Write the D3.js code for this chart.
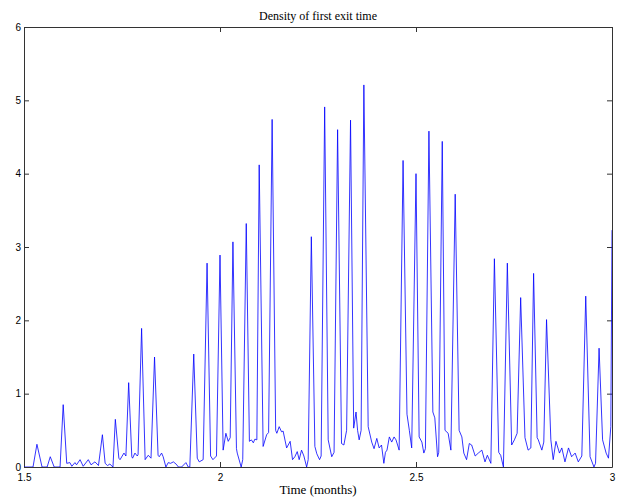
<!DOCTYPE html>
<html>
<head>
<meta charset="utf-8">
<script src="https://cdn.jsdelivr.net/npm/d3@7"></script>
<style>
  body { margin: 0; background: #fff; }
  .tick text { font-family: "Liberation Sans", Arial, sans-serif; font-size: 10px; fill: #000; }
  .domain, .tick line { stroke: #333; }
</style>
</head>
<body>
<script>
// time in months, density
const times = [
  1.500, 1.523, 1.533, 1.546, 1.559, 1.567, 1.577, 1.592, 1.600, 1.609,
  1.617, 1.622, 1.630, 1.634, 1.643, 1.651, 1.664, 1.671, 1.681, 1.690,
  1.700, 1.707, 1.713, 1.719, 1.727, 1.733, 1.742, 1.745, 1.755, 1.760,
  1.767, 1.775, 1.777, 1.783, 1.789, 1.791, 1.800, 1.809, 1.817, 1.824,
  1.833, 1.842, 1.845, 1.851, 1.855, 1.862, 1.868, 1.874, 1.881, 1.888,
  1.894, 1.902, 1.913, 1.919, 1.923, 1.933, 1.942, 1.947, 1.957, 1.967,
  1.976, 1.982, 1.991, 2.000, 2.008, 2.015, 2.021, 2.026, 2.033, 2.042,
  2.044, 2.054, 2.058, 2.067, 2.075, 2.080, 2.085, 2.089, 2.094, 2.100,
  2.110, 2.119, 2.124, 2.133, 2.142, 2.145, 2.151, 2.157, 2.161, 2.170,
  2.179, 2.185, 2.191, 2.197, 2.202, 2.208, 2.214, 2.221, 2.225, 2.233,
  2.242, 2.247, 2.254, 2.258, 2.267, 2.276, 2.285, 2.291, 2.300, 2.310,
  2.316, 2.323, 2.333, 2.341, 2.347, 2.351, 2.355, 2.360, 2.367, 2.378,
  2.387, 2.393, 2.400, 2.406, 2.412, 2.418, 2.422, 2.426, 2.432, 2.438,
  2.444, 2.449, 2.457, 2.467, 2.477, 2.483, 2.489, 2.500, 2.508, 2.515,
  2.520, 2.524, 2.533, 2.543, 2.548, 2.555, 2.558, 2.567, 2.574, 2.582,
  2.589, 2.600, 2.610, 2.617, 2.622, 2.629, 2.636, 2.642, 2.651, 2.659,
  2.668, 2.676, 2.682, 2.691, 2.700, 2.711, 2.716, 2.723, 2.733, 2.744,
  2.751, 2.758, 2.767, 2.778, 2.786, 2.793, 2.800, 2.809, 2.812, 2.821,
  2.826, 2.833, 2.844, 2.850, 2.857, 2.866, 2.872, 2.880, 2.889, 2.897,
  2.906, 2.914, 2.923, 2.933, 2.944, 2.954, 2.958, 2.967, 2.976, 2.985,
  2.991, 2.997, 3.000
];
const density = [
  0.00, 0.00, 0.31, 0.00, 0.00, 0.14, 0.00, 0.00, 0.85, 0.05,
  0.06, 0.01, 0.06, 0.03, 0.10, 0.01, 0.10, 0.03, 0.07, 0.02,
  0.44, 0.05, 0.02, 0.04, 0.00, 0.65, 0.12, 0.10, 0.19, 0.15,
  1.15, 0.14, 0.12, 0.19, 0.15, 0.17, 1.89, 0.10, 0.16, 0.12,
  1.50, 0.16, 0.14, 0.19, 0.14, 0.00, 0.06, 0.05, 0.07, 0.04,
  0.00, 0.00, 0.06, 0.00, 0.00, 1.54, 0.12, 0.07, 0.10, 2.78,
  0.15, 0.10, 0.15, 2.89, 0.23, 0.46, 0.35, 0.40, 3.07, 0.25,
  0.19, 0.00, 0.10, 3.32, 0.35, 0.37, 0.33, 0.38, 0.37, 4.12,
  0.28, 0.44, 0.47, 4.74, 0.50, 0.46, 0.55, 0.48, 0.49, 0.26,
  0.35, 0.10, 0.14, 0.21, 0.10, 0.23, 0.15, 0.00, 0.10, 3.14,
  0.28, 0.18, 0.10, 0.15, 4.91, 0.37, 0.14, 0.20, 4.60, 0.32,
  0.30, 0.50, 4.73, 0.53, 0.75, 0.50, 0.37, 0.50, 5.21, 0.55,
  0.34, 0.25, 0.39, 0.26, 0.30, 0.05, 0.20, 0.23, 0.41, 0.34,
  0.41, 0.37, 0.23, 4.18, 0.72, 0.50, 0.26, 4.00, 0.41, 0.34,
  0.19, 0.25, 4.58, 0.75, 0.67, 0.14, 0.20, 4.44, 0.50, 0.46,
  0.23, 3.72, 0.50, 0.41, 0.19, 0.10, 0.32, 0.30, 0.15, 0.19,
  0.23, 0.07, 0.16, 0.05, 2.84, 0.20, 0.16, 0.00, 2.78, 0.30,
  0.37, 0.46, 2.31, 0.40, 0.23, 0.26, 2.64, 0.40, 0.37, 0.23,
  0.34, 2.01, 0.37, 0.10, 0.35, 0.19, 0.26, 0.07, 0.26, 0.14,
  0.19, 0.07, 0.15, 2.33, 0.14, 0.00, 0.05, 1.62, 0.37, 0.19,
  0.12, 0.55, 3.23
];
const xTicks = [1.5, 2, 2.5, 3];
const yTicks = [0, 1, 2, 3, 4, 5, 6];

const width = 633;
const height = 498;
const margin = { left: 24, right: 21, top: 27, bottom: 31 };
const innerW = width - margin.left - margin.right;
const innerH = height - margin.top - margin.bottom;

const svg = d3.select("body")
  .append("svg")
  .attr("width", width)
  .attr("height", height);

const x = d3.scaleLinear().domain([1.5, 3]).range([margin.left, width - margin.right]);
const y = d3.scaleLinear().domain([0, 6]).range([height - margin.bottom, margin.top]);

svg.append("defs").append("clipPath").attr("id", "plot")
  .append("rect")
  .attr("x", margin.left).attr("y", margin.top)
  .attr("width", innerW).attr("height", innerH);

// axes with inward ticks, MATLAB style box
svg.append("g")
  .attr("transform", `translate(0,${height - margin.bottom})`)
  .call(d3.axisBottom(x).tickValues(xTicks).tickSizeInner(-5).tickSizeOuter(0).tickPadding(7)
    .tickFormat(d => Number.isInteger(d) ? d3.format("d")(d) : d.toFixed(1)));

svg.append("g")
  .attr("transform", `translate(0,${margin.top})`)
  .call(d3.axisTop(x).tickValues(xTicks).tickSizeInner(-5).tickSizeOuter(0).tickFormat(""));

svg.append("g")
  .attr("transform", `translate(${margin.left},0)`)
  .call(d3.axisLeft(y).tickValues(yTicks).tickSizeInner(-5).tickSizeOuter(0).tickPadding(3)
    .tickFormat(d3.format("d")));

svg.append("g")
  .attr("transform", `translate(${width - margin.right},0)`)
  .call(d3.axisRight(y).tickValues(yTicks).tickSizeInner(-5).tickSizeOuter(0).tickFormat(""));

const points = times.map((t, i) => [t, density[i]]);

const line = d3.line()
  .x(d => x(d[0]))
  .y(d => y(d[1]));

svg.append("path")
  .datum(points)
  .attr("clip-path", "url(#plot)")
  .attr("fill", "none")
  .attr("stroke", "#0000ff")
  .attr("stroke-width", 0.8)
  .attr("d", line);

svg.append("text")
  .attr("x", (margin.left + width - margin.right) / 2)
  .attr("y", 20)
  .attr("text-anchor", "middle")
  .style("font-family", "'Liberation Serif', 'Times New Roman', serif")
  .style("font-size", "12px")
  .text("Density of first exit time");

svg.append("text")
  .attr("x", (margin.left + width - margin.right) / 2)
  .attr("y", 494)
  .attr("text-anchor", "middle")
  .style("font-family", "'Liberation Serif', 'Times New Roman', serif")
  .style("font-size", "13px")
  .text("Time (months)");
</script>
</body>
</html>
